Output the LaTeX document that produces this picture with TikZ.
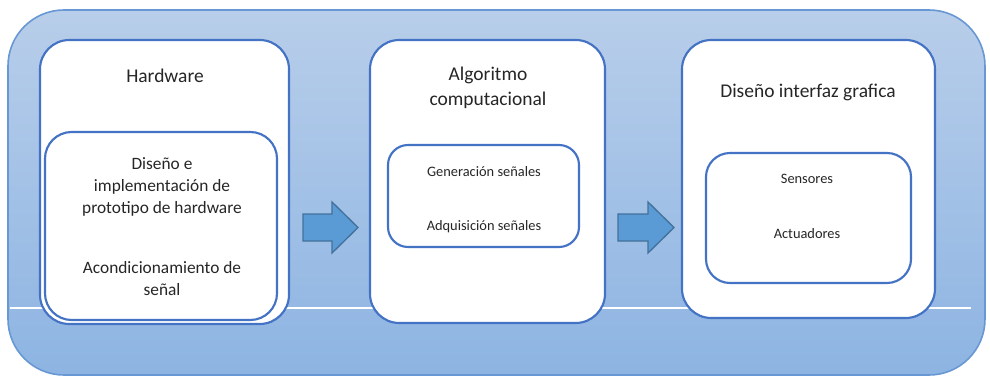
\documentclass[tikz,border=0pt]{standalone}
\usepackage{fontspec}
\setmainfont{Carlito}
\usepackage{tikz}

\definecolor{fondhaut}{RGB}{184,206,234}
\definecolor{fondbas}{RGB}{141,180,226}
\definecolor{bordfond}{RGB}{104,152,212}
\definecolor{bordbloc}{RGB}{68,114,196}
\definecolor{flechebleu}{RGB}{91,155,213}
\definecolor{flechebord}{RGB}{65,113,156}

\begin{document}
\begin{tikzpicture}[x=0.75pt, y=-0.75pt,
    bloc/.style={draw=bordbloc, fill=white, line width=1.6pt, rounded corners=22pt},
    souscadre/.style={draw=bordbloc, fill=white, line width=1.6pt, rounded corners=18pt},
    fleche/.style={draw=flechebord, fill=flechebleu, line width=1pt, line join=miter},
    titre/.style={font=\fontsize{14.6}{18.75}\selectfont, align=center, text=black!85},
    texte/.style={font=\fontsize{13}{16.5}\selectfont, align=center, text=black!85},
    petit/.style={font=\fontsize{10.8}{13}\selectfont, align=center, text=black!85}]
    \useasboundingbox (0,0) rectangle (990,378);

    % fond
    \shade[top color=fondhaut, bottom color=fondbas, rounded corners=42pt] (8,10) rectangle (985,375);
    \draw[bordfond, line width=1.2pt, rounded corners=42pt] (8,10) rectangle (985,375);
    \coordinate (L1) at (10,308);
    \coordinate (L2) at (971,308);
    \draw[white, line width=1.5pt] (L1) -- (L2);

    % bloc 1 : hardware
    \draw[bloc] (40,40) rectangle (289,324);
    \draw[bloc, rounded corners=20pt] (45,132) rectangle (277,320);
    \node[titre] (hw) at (165,76) {Hardware};
    \node[texte] (hwa) at (162,187) {Diseño e\\implementación de\\prototipo de hardware};
    \node[texte] (hwb) at (162,279) {Acondicionamiento de\\señal};

    % flèche 1
    \draw[fleche] (303,214) -- (332,214) -- (332,202) -- (358,227.5) -- (332,253) -- (332,241) -- (303,241) -- cycle;

    % bloc 2 : algoritmo
    \draw[bloc] (370,40) rectangle (605,323);
    \draw[souscadre, rounded corners=15pt] (388,145) rectangle (579,247);
    \node[titre] (alg) at (488,88) {Algoritmo\\computacional};
    \node[petit] (gen) at (484,172) {Generación señales};
    \node[petit] (adq) at (484,227) {Adquisición señales};

    % flèche 2
    \draw[fleche] (618,214) -- (648,214) -- (648,202) -- (674,227.5) -- (648,253) -- (648,241) -- (618,241) -- cycle;

    % bloc 3 : interfaz
    \draw[bloc] (682,40) rectangle (935,318);
    \draw[souscadre] (706,153) rectangle (911,283);
    \node[titre] (gui) at (808,92) {Diseño interfaz grafica};
    \node[petit] (sen) at (807,179) {Sensores};
    \node[petit] (act) at (807,234) {Actuadores};
\end{tikzpicture}
\end{document}
